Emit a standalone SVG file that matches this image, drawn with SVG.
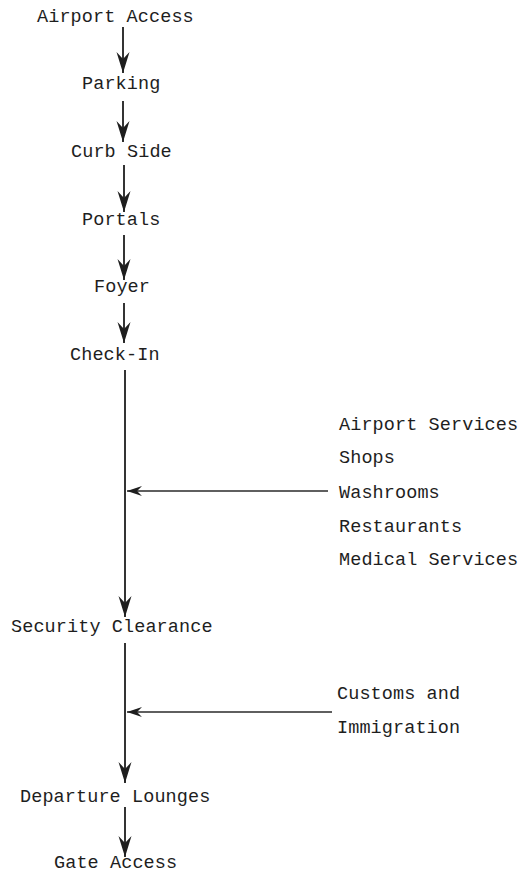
<svg xmlns="http://www.w3.org/2000/svg" width="522" height="874" viewBox="0 0 522 874">
<defs>
<style>
text{font-family:"Liberation Mono","DejaVu Sans Mono",monospace;font-size:18.5px;fill:#1e1e1e;letter-spacing:0.1px}
.c{stroke:#1e1e1e;stroke-width:1.8;fill:none}
.h{stroke:#2a2a2a;stroke-width:1.5;fill:none}
</style>
<marker id="ah" viewBox="-22 -8 24 16" refX="0" refY="0" markerWidth="24" markerHeight="16" markerUnits="userSpaceOnUse" orient="auto">
<path d="M0,0 L-21,-6.5 L-14,0 L-21,6.5 Z" fill="#1e1e1e"/>
</marker>
<marker id="ahs" viewBox="-16 -6 18 12" refX="0" refY="0" markerWidth="18" markerHeight="12" markerUnits="userSpaceOnUse" orient="auto">
<path d="M0,0 L-15,-5 L-10,0 L-15,5 Z" fill="#1e1e1e"/>
</marker>
</defs>
<rect width="522" height="874" fill="#fff"/>
<g id="connectors">
<line class="c" x1="123" y1="27" x2="123" y2="73" marker-end="url(#ah)"/>
<line class="c" x1="123" y1="101" x2="123" y2="142" marker-end="url(#ah)"/>
<line class="c" x1="124" y1="165" x2="124" y2="212" marker-end="url(#ah)"/>
<line class="c" x1="124" y1="235" x2="124" y2="280" marker-end="url(#ah)"/>
<line class="c" x1="124" y1="303" x2="124" y2="343" marker-end="url(#ah)"/>
<line class="c" x1="125" y1="370" x2="125" y2="617" marker-end="url(#ah)"/>
<line class="h" x1="328" y1="491" x2="127" y2="491" marker-end="url(#ahs)"/>
<line class="c" x1="125" y1="643" x2="125" y2="783" marker-end="url(#ah)"/>
<line class="h" x1="332" y1="712" x2="127" y2="712" marker-end="url(#ahs)"/>
<line class="c" x1="125" y1="807" x2="125" y2="857" marker-end="url(#ah)"/>
</g>
<g id="airport-access"><text x="37" y="22">Airport Access</text></g>
<g id="parking"><text x="82" y="89">Parking</text></g>
<g id="curb-side"><text x="71" y="157">Curb Side</text></g>
<g id="portals"><text x="82" y="225">Portals</text></g>
<g id="foyer"><text x="94" y="292">Foyer</text></g>
<g id="check-in"><text x="70" y="360">Check-In</text></g>
<g id="airport-services">
<text x="339" y="430">Airport Services</text>
<text x="339" y="463">Shops</text>
<text x="339" y="498">Washrooms</text>
<text x="339" y="532">Restaurants</text>
<text x="339" y="565">Medical Services</text>
</g>
<g id="security-clearance"><text x="11" y="632">Security Clearance</text></g>
<g id="customs"><text x="337" y="699">Customs and</text><text x="337" y="733">Immigration</text></g>
<g id="departure-lounges"><text x="20" y="802">Departure Lounges</text></g>
<g id="gate-access"><text x="54" y="868">Gate Access</text></g>
</svg>
